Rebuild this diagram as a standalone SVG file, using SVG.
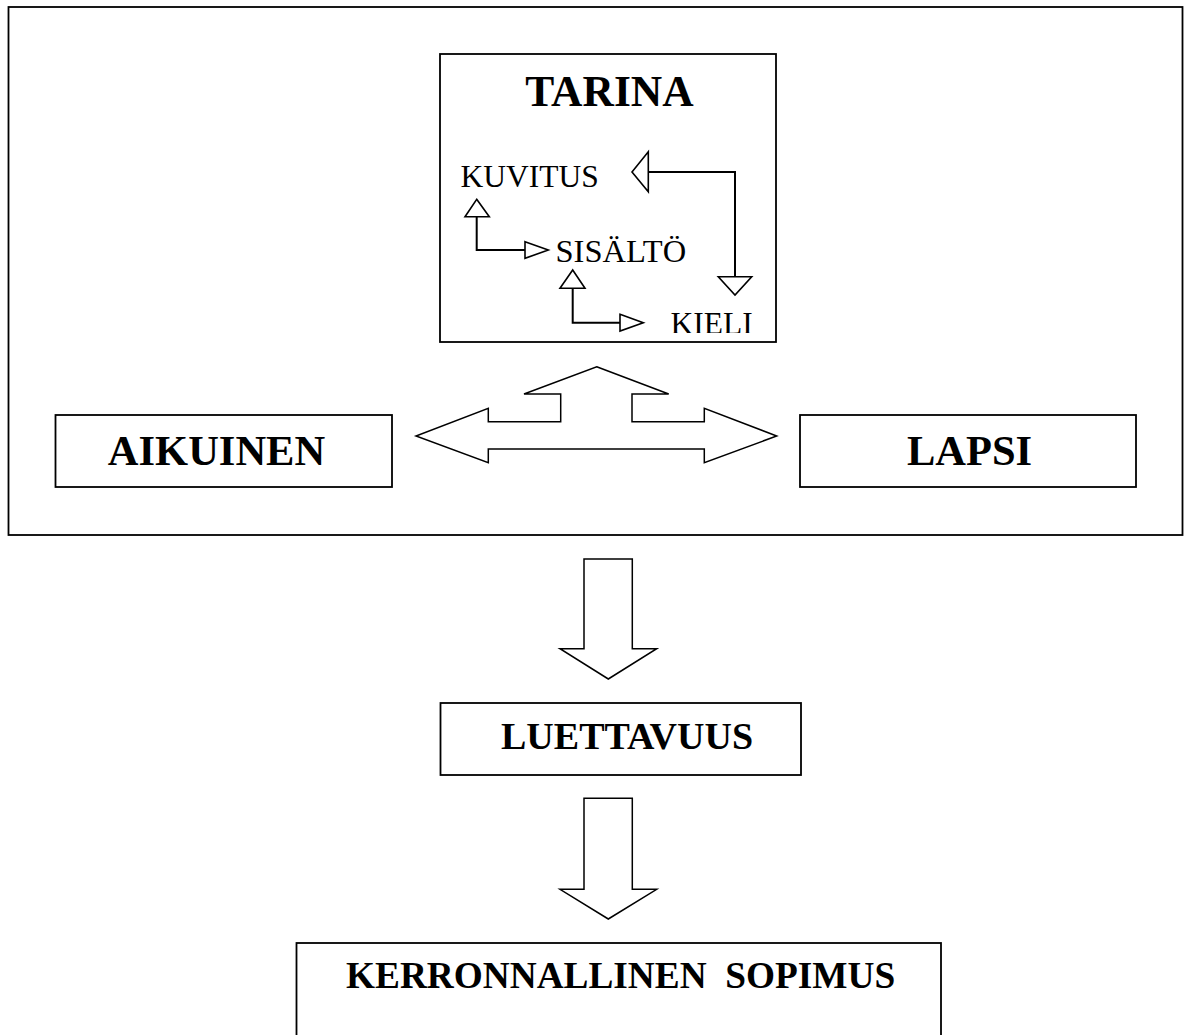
<svg xmlns="http://www.w3.org/2000/svg" width="1184" height="1035" viewBox="0 0 1184 1035">
<style>
.box{fill:#fff;stroke:#000;stroke-width:1.8}
.frame{fill:none;stroke:#000;stroke-width:1.8}
.block{fill:#fff;stroke:#000;stroke-width:1.5;stroke-linejoin:miter}
.line{fill:none;stroke:#000;stroke-width:2}
.head{fill:#fff;stroke:#000;stroke-width:1.6;stroke-linejoin:miter}
.title{font-family:"Liberation Serif","Times New Roman",serif;font-weight:bold;font-size:42.5px;fill:#000}
.sub{font-family:"Liberation Serif","Times New Roman",serif;font-weight:bold;font-size:37px;fill:#000}
.small{font-family:"Liberation Serif","Times New Roman",serif;font-size:31.5px;fill:#000}
</style>
<defs>
<clipPath id="kieliClip"><rect x="600" y="290" width="170" height="43"/></clipPath>
</defs>
<rect id="frame" class="frame" x="8.5" y="7" width="1174" height="528"/>
<g id="tarina">
<rect class="box" x="440" y="54" width="336" height="288"/>
<text class="title" x="609.5" y="106" text-anchor="middle" style="font-size:43.5px">TARINA</text>
</g>
<g id="kuvitus"><text class="small" x="460.5" y="187">KUVITUS</text></g>
<g id="sisalto"><text class="small" x="555.5" y="262" style="font-size:32.5px">SISÄLTÖ</text></g>
<g id="kieli"><text class="small" x="670.5" y="334" clip-path="url(#kieliClip)">KIELI</text></g>
<g id="aikuinen">
<rect class="box" x="55.5" y="415" width="336.5" height="72"/>
<text class="title" x="216.5" y="465" text-anchor="middle">AIKUINEN</text>
</g>
<g id="lapsi">
<rect class="box" x="800" y="415" width="336" height="72"/>
<text class="title" x="969.5" y="465" text-anchor="middle">LAPSI</text>
</g>
<g id="luettavuus">
<rect class="box" x="440.5" y="703" width="360.5" height="72"/>
<text class="sub" x="501" y="749" style="font-size:38px">LUETTAVUUS</text>
</g>
<g id="kerronnallinen">
<rect class="box" x="296.5" y="943" width="644.5" height="110"/>
<text class="sub" x="346" y="988" xml:space="preserve" style="font-size:37.3px">KERRONNALLINEN  SOPIMUS</text>
</g>
<g id="connectors">
<path class="line" d="M648.3,172 H735 V276.7"/>
<polygon class="head" points="632,172 648.3,151.7 648.3,191.7"/>
<polygon class="head" points="718.3,276.7 751.7,276.7 735,295"/>
<path class="line" d="M476.7,216.7 V250 H525"/>
<polygon class="head" points="476.7,199.3 489.3,216.7 465,216.7"/>
<polygon class="head" points="525,241.7 548.3,250 525,258.3"/>
<path class="line" d="M572.7,288.3 V322.7 H620"/>
<polygon class="head" points="572.7,270 585,288.3 560,288.3"/>
<polygon class="head" points="620,314.3 643.3,322.7 620,331"/>
<polygon class="block" points="596.7,366.7 668.7,394 632,394 632,421.7 704.3,421.7 704.3,408.3 776.7,436 704.3,462.7 704.3,449 488.3,449 488.3,462.7 416,436 488.3,408.3 488.3,421.7 560.7,421.7 560.7,394 524,394"/>
<polygon class="block" points="584,559 632.3,559 632.3,648.7 656.7,648.7 608.3,679 560,648.7 584,648.7"/>
<polygon class="block" points="584,798.3 632.3,798.3 632.3,889.3 656.7,889.3 608.3,919 560,889.3 584,889.3"/>
</g>
</svg>
